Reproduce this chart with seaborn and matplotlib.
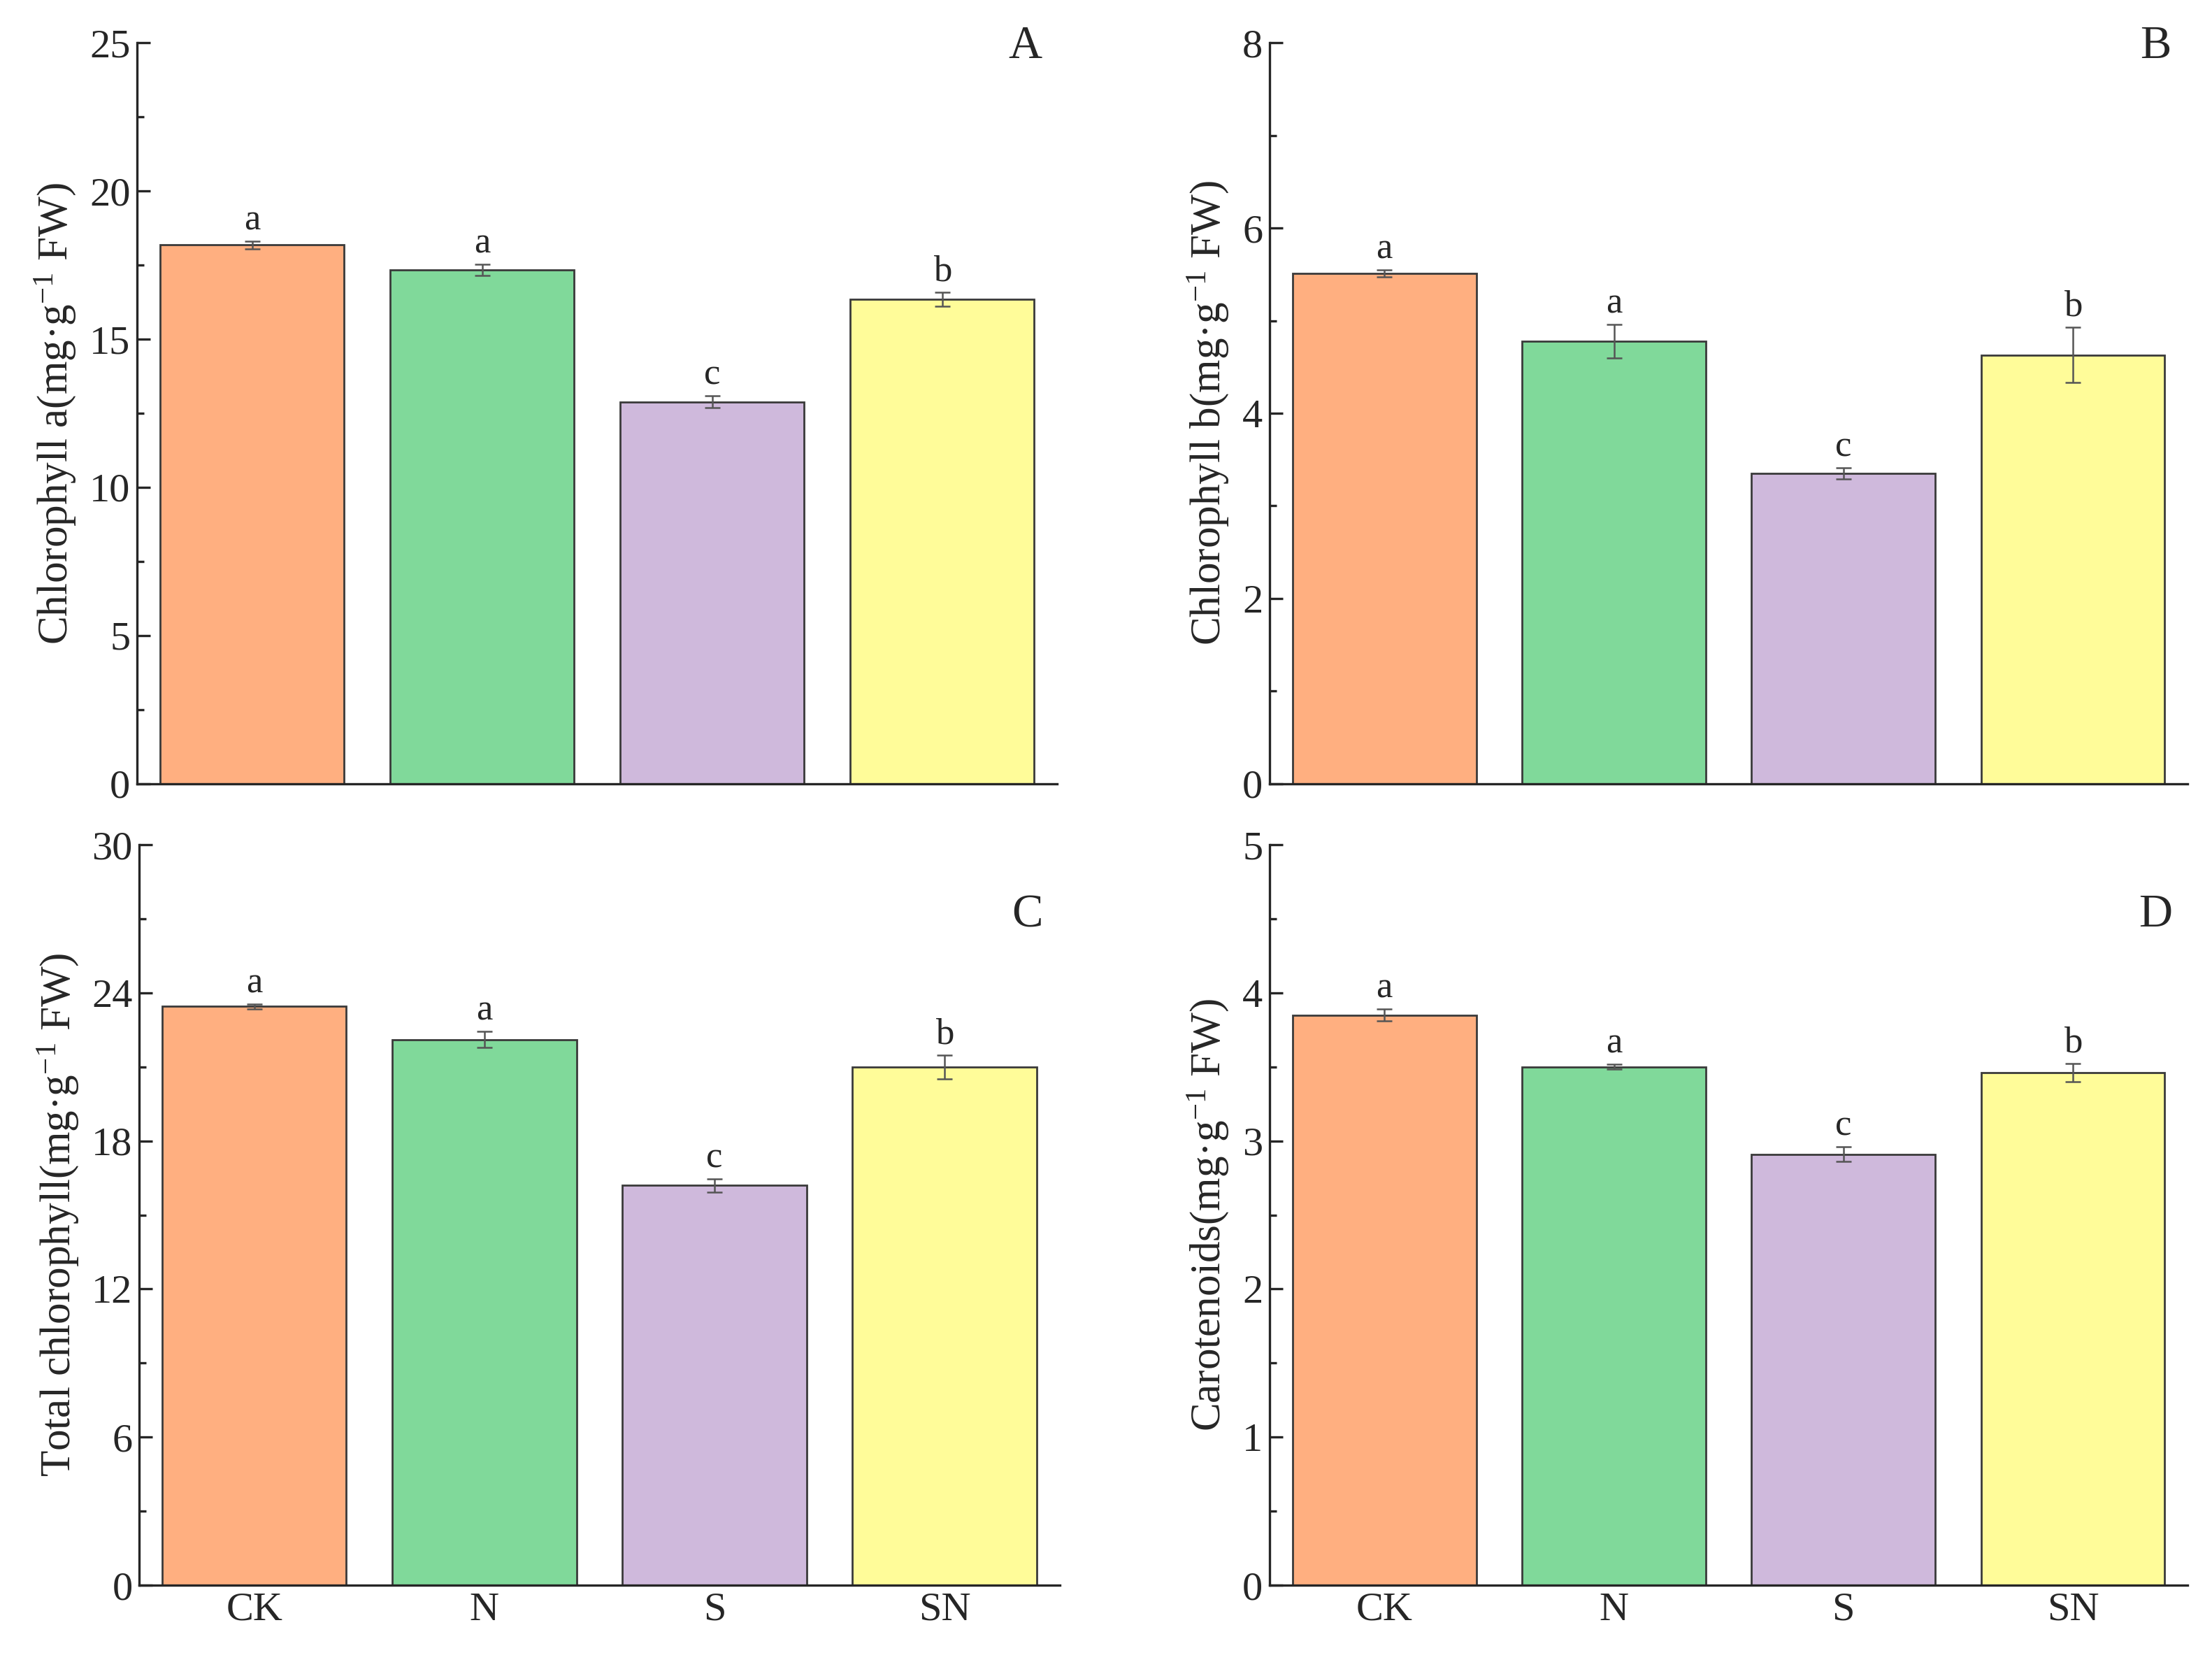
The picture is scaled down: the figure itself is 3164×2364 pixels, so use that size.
import matplotlib
matplotlib.use("Agg")
import matplotlib.pyplot as plt
import seaborn as sns
import numpy as np
import pandas as pd
from matplotlib.ticker import MultipleLocator

# Tratamientos y colores
treatments = ["CK", "N", "S", "SN"]
colors = ["#FFAF80", "#80D99A", "#CFB9DC", "#FFFC99"]

# Valores (media y error)
chl_a = [18.18, 17.34, 12.88, 16.35]
chl_a_err = [0.13, 0.18, 0.20, 0.23]
chl_b = [5.51, 4.78, 3.35, 4.63]
chl_b_err = [0.04, 0.18, 0.06, 0.30]
chl_total = [23.45, 22.11, 16.20, 20.98]
chl_total_err = [0.10, 0.33, 0.27, 0.48]
carot = [3.85, 3.50, 2.91, 3.46]
carot_err = [0.04, 0.016, 0.05, 0.062]

letters = ["a", "a", "c", "b"]

sns.set_theme(style="ticks")
plt.rcParams['font.family'] = ['Liberation Serif', 'DejaVu Serif']
plt.rcParams['mathtext.fontset'] = 'custom'
plt.rcParams['mathtext.rm'] = 'Liberation Serif'
plt.rcParams['mathtext.it'] = 'Liberation Serif:italic'
plt.rcParams['axes.linewidth'] = 1.2

panels = [
    ("A", chl_a, chl_a_err, "Chlorophyll a(mg·g$^{-1}$ FW)", 25, 5, 0.995),
    ("B", chl_b, chl_b_err, "Chlorophyll b(mg·g$^{-1}$ FW)", 8, 2, 0.995),
    ("C", chl_total, chl_total_err, "Total chlorophyll(mg·g$^{-1}$ FW)", 30, 6, 0.905),
    ("D", carot, carot_err, "Carotenoids(mg·g$^{-1}$ FW)", 5, 1, 0.905),
]

fig = plt.figure(figsize=(15.82, 11.82), dpi=200)
rects = [
    [0.062, 0.526, 0.416, 0.448],
    [0.574, 0.526, 0.415, 0.448],
    [0.063, 0.041, 0.416, 0.448],
    [0.574, 0.041, 0.415, 0.448],
]

for i, (tag, vals, errs, ylab, ymax, step, tag_y) in enumerate(panels):
    ax = fig.add_axes(rects[i])
    df = pd.DataFrame({"trat": treatments, "valor": vals})
    sns.barplot(data=df, x="trat", y="valor", hue="trat", palette=colors,
                order=treatments, hue_order=treatments, legend=False,
                width=0.8, saturation=1, edgecolor="#3a3a3a", linewidth=1.0,
                errorbar=None, ax=ax)
    ax.errorbar(np.arange(len(treatments)), vals, yerr=errs, fmt="none",
                ecolor="#555555", elinewidth=0.9, capsize=4, capthick=0.9)
    for x, v, e, l in zip(range(len(treatments)), vals, errs, letters):
        ax.annotate(l, (x, v + e), xytext=(0, 2), textcoords="offset points",
                    ha="center", va="bottom", fontsize=19)

    ax.set_xlim(-0.5, 3.5)
    ax.set_ylim(0, ymax)
    ax.yaxis.set_major_locator(MultipleLocator(step))
    ax.yaxis.set_minor_locator(MultipleLocator(step / 2))
    ax.tick_params(axis="both", which="major", direction="in", length=7,
                   width=1.2, labelsize=21)
    ax.tick_params(axis="y", which="minor", direction="in", length=3.5, width=1.2)
    ax.tick_params(axis="x", which="minor", bottom=False)
    ax.set_ylabel(ylab, fontsize=22, labelpad=6)
    ax.set_xlabel("")
    if i < 2:
        ax.set_xticklabels([])
    sns.despine(ax=ax)
    ax.text(0.965, tag_y, tag, transform=ax.transAxes, ha="center",
            va="center", fontsize=24)

fig.savefig("out.png", dpi=200)
